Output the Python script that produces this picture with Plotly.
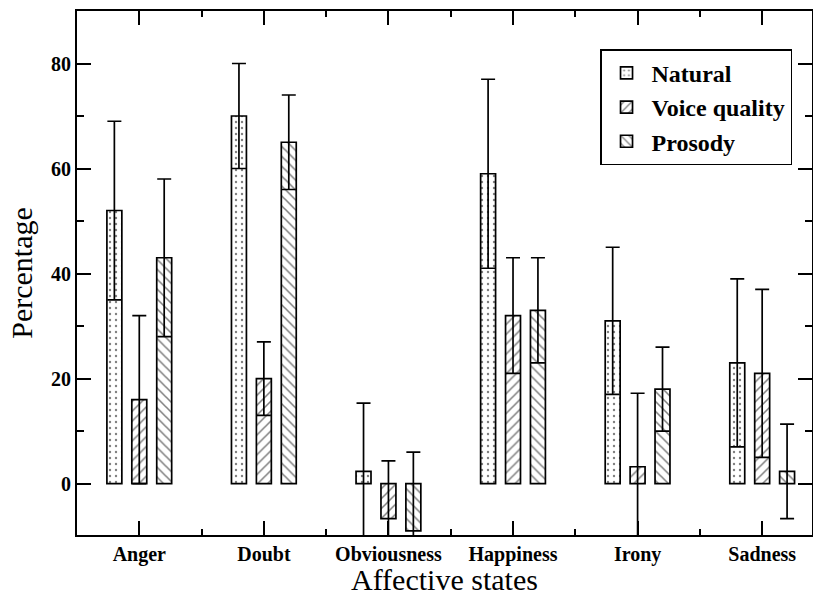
import plotly.graph_objects as go

categories = ["Anger", "Doubt", "Obviousness", "Happiness", "Irony", "Sadness"]
series_names = ["Natural", "Voice quality", "Prosody"]
natural = [52, 70, 2.3, 59, 31, 23]
natural_err = [17, 10, 13, 18, 14, 16]
voice = [16, 20, -6.7, 32, 3.2, 21]
voice_err = [16, 7, 11, 11, 14, 16]
prosody = [43, 65, -9, 33, 18, 2.3]
prosody_err = [15, 9, 15, 10, 8, 9]
y_ticks = [0, 20, 40, 60, 80]

FONT = "Liberation Serif"
xpos = list(range(len(categories)))

fig = go.Figure()
patterns = [".", "/", "\\"]
datasets = [(natural, natural_err), (voice, voice_err), (prosody, prosody_err)]
for name, (vals, errs), shp in zip(series_names, datasets, patterns):
    fig.add_trace(go.Bar(
        x=xpos, y=vals,
        name="<span style='font-family:Liberation Serif'>" + name + "</span>",
        marker=dict(
            color="white",
            line=dict(color="black", width=1.7),
            pattern=dict(shape=shp, fgcolor="black", bgcolor="white",
                         size=7 if shp != "." else 6,
                         solidity=0.22 if shp != "." else 0.12),
        ),
        error_y=dict(type="data", array=errs, visible=True,
                     color="black", thickness=1.7, width=7),
    ))

fig.update_layout(
    width=813, height=597,
    paper_bgcolor="white", plot_bgcolor="white",
    margin=dict(l=77, r=1, t=11, b=62, autoexpand=False),
    barmode="group", bargap=0.4, bargroupgap=0.4,
    font=dict(family=FONT, color="black"),
    showlegend=True,
    legend=dict(
        x=0.7116, y=0.927, xanchor="left", yanchor="top",
        bgcolor="white", bordercolor="black", borderwidth=1.5,
        itemwidth=40,
        font=dict(family=FONT, size=24, color="black", weight="bold"),
    ),
)

fig.update_xaxes(
    range=[-0.5, 5.4], automargin=False,
    tickmode="array", tickvals=xpos, ticktext=categories,
    tickfont=dict(family=FONT, size=20, color="black", weight="bold"),
    ticks="inside", ticklen=14, tickwidth=1.6, tickcolor="black",
    minor=dict(tickmode="linear", tick0=0.5, dtick=1, ticks="inside",
               ticklen=6, tickwidth=1.6, tickcolor="black"),
    showline=True, linecolor="black", linewidth=1.8, mirror="ticks",
    showgrid=False, zeroline=False,
)
fig.update_yaxes(
    range=[-9.8, 90], automargin=False,
    tickmode="array", tickvals=y_ticks,
    tickfont=dict(family=FONT, size=20, color="black", weight="bold"),
    ticks="inside", ticklen=14, tickwidth=1.6, tickcolor="black",
    minor=dict(tickmode="linear", tick0=10, dtick=20, ticks="inside",
               ticklen=7, tickwidth=1.6, tickcolor="black"),
    showline=True, linecolor="black", linewidth=1.8, mirror="ticks",
    showgrid=False, zeroline=False,
    title=dict(text="Percentage", font=dict(family=FONT, size=30, color="black"),
               standoff=10),
)

fig.add_annotation(
    text="Affective states", xref="paper", yref="paper",
    x=0.5, y=-0.12, xanchor="center", yanchor="bottom", showarrow=False,
    font=dict(family=FONT, size=30, color="black"),
)

fig.write_html("out.html",
               config={"displayModeBar": False},
               post_script="document.body.style.margin='0';document.body.style.overflow='hidden';")
